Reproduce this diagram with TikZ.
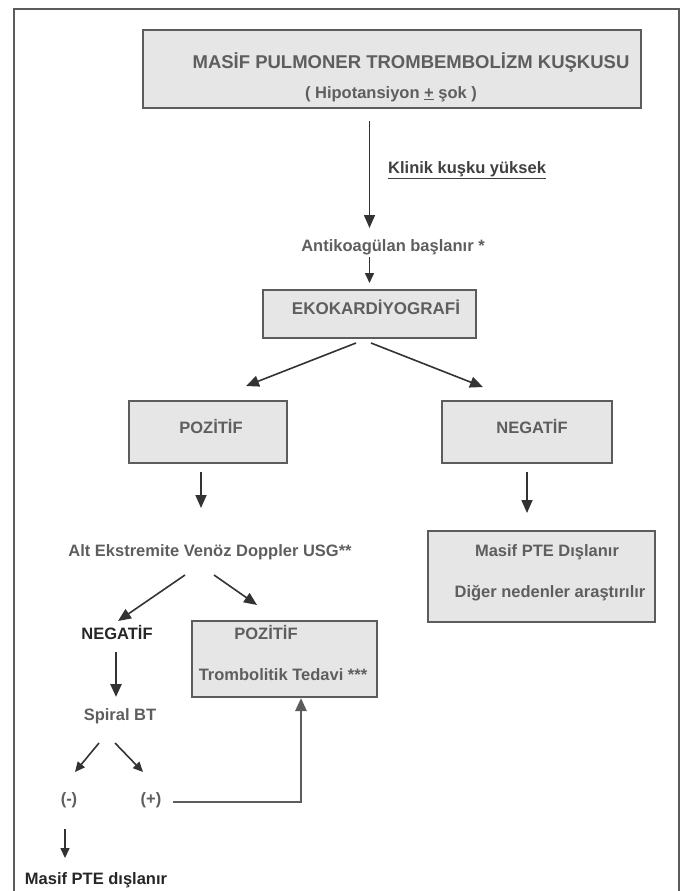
\documentclass[tikz,border=0pt]{standalone}
\usepackage{fontspec}
\setmainfont{Liberation Sans}
\usetikzlibrary{calc,arrows.meta}
\definecolor{boxgray}{HTML}{E6E6E6}
\definecolor{linegray}{HTML}{5C5C5C}
\definecolor{txtgray}{HTML}{5E5E5E}

\begin{document}
\begin{tikzpicture}[x=1pt,y=-1pt,
    box/.style={draw=linegray, line width=2pt, fill=boxgray},
    lbl/.style={font=\fontsize{16.5}{20}\selectfont\bfseries, text=txtgray, inner sep=0pt},
    dark/.style={lbl, text=black!85},
    arr/.style={line width=1.6pt, draw=black!80, -{Triangle[length=13pt,width=11pt]}},
    smallarr/.style={arr, -{Triangle[length=10pt,width=9pt]}},
    heavy/.style={arr, line width=2.6pt}]
    \useasboundingbox (0,0) rectangle (681,891);
    \draw[linegray, line width=1.5pt] (14,891) -- (14,9) -- (679,9) -- (679,891);

    % boxes
    \node[box, minimum width=498pt, minimum height=78pt] (susp) at (392,69) {};
    \node[box, minimum width=213pt, minimum height=48pt] (eko) at (369.5,314) {};
    \node[box, minimum width=158pt, minimum height=62pt] (poz) at (208,432) {};
    \node[box, minimum width=170pt, minimum height=62pt] (neg) at (527,432) {};
    \node[box, minimum width=227pt, minimum height=91pt] (excl) at (541.5,576.5) {};
    \node[box, minimum width=185pt, minimum height=76pt] (trombo) at (284.5,659) {};

    % texts
    \node[lbl, font=\fontsize{18.5}{22}\selectfont\bfseries] (title) at (411,62) {MASİF PULMONER TROMBEMBOLİZM KUŞKUSU};
    \node[lbl] (hipo) at (391,94) {( Hipotansiyon \underline{+} şok )};
    \node[lbl, text=black!75, anchor=west] (klinik) at (388,170) {\underline{Klinik kuşku yüksek}};
    \node[lbl] (antik) at (393,247) {Antikoagülan başlanır *};
    \node[lbl, font=\fontsize{17}{20}\selectfont\bfseries] (ekolbl) at (376,307) {EKOKARDİYOGRAFİ};
    \node[lbl] (pozlbl) at (211,427) {POZİTİF};
    \node[lbl] (neglbl) at (532,427) {NEGATİF};
    \node[lbl] (usg) at (210,552) {Alt Ekstremite Venöz Doppler USG**};
    \node[lbl] (excl1) at (547,552) {Masif PTE Dışlanır};
    \node[lbl] (excl2) at (550,593) {Diğer nedenler araştırılır};
    \node[dark] (usgneg) at (117,633) {NEGATİF};
    \node[lbl] (usgpoz) at (266,633) {POZİTİF};
    \node[lbl] (tedavi) at (283,675) {Trombolitik Tedavi ***};
    \node[lbl] (spiral) at (120,716) {Spiral BT};
    \node[lbl] (btneg) at (69,800) {(-)};
    \node[lbl] (btpoz) at (151,800) {(+)};
    \node[dark] (dislanir) at (96,880) {Masif PTE dışlanır};

    % arrows
    \draw[arr, shorten <=12pt, shorten >=19pt] (susp.south -| eko.north) -- (antik.center -| eko.north);
    \draw[smallarr, shorten <=10pt, shorten >=6pt] (antik.center -| eko.north) -- (eko.north);
    \draw[arr] ($(eko.south)+(-13.5,4)$) -- ($(poz.north)+(38,-14)$);
    \draw[arr] ($(eko.south)+(1.5,4)$) -- ($(neg.north)+(-44,-13)$);
    \draw[arr, shorten <=8pt, shorten >=38pt] (poz.south -| usg.center) ++(-9,0) -- ++(0,82);
    \draw[arr, shorten <=8pt] (neg.south) -- ($(excl.north -| neg.south)+(0,-17)$);
    \draw[arr] ($(usg.center)+(-25,23)$) -- ($(usgneg.center)+(1,-12)$);
    \draw[arr] ($(usg.center)+(4,23)$) -- ($(trombo.north)+(-27.5,-15)$);
    \draw[heavy, shorten <=19pt, shorten >=19pt] (usgneg.center -| spiral.center) ++(-4,0) -- ++(0,83);
    \draw[smallarr] ($(spiral.center)+(-21,27)$) -- ($(btneg.center)+(6,-28)$);
    \draw[smallarr] ($(spiral.center)+(-5,27)$) -- ($(btpoz.center)+(-8,-28)$);
    \draw[heavy, draw=linegray] ($(btpoz.center)+(22,2)$) -| (trombo.south -| 301,0);
    \draw[smallarr, shorten <=29pt, shorten >=22pt] (btneg.center) ++(-4,0) -- (dislanir.center -| 65,0);
\end{tikzpicture}
\end{document}
